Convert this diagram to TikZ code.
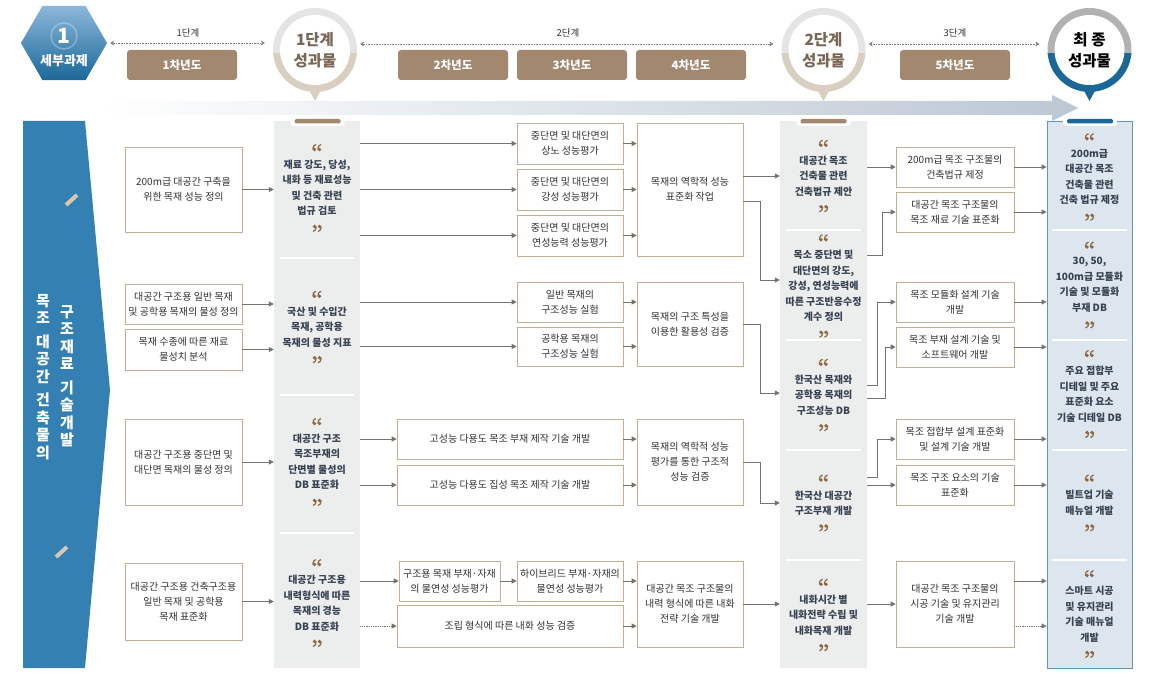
\documentclass[tikz,border=0pt]{standalone}
\usepackage{fontspec}
\setmainfont{Noto Sans CJK KR}
\usepackage{tikz}
\usetikzlibrary{calc,arrows.meta,shapes.geometric}
\definecolor{krblue}{RGB}{52,128,178}
\definecolor{krlight}{RGB}{140,184,218}
\definecolor{krnavy}{RGB}{27,104,152}
\definecolor{krbrown}{RGB}{163,136,112}
\definecolor{krtan}{RGB}{196,174,150}
\definecolor{krgray}{RGB}{236,237,237}
\definecolor{krpale}{RGB}{221,229,238}
\definecolor{krframe}{RGB}{96,150,194}
\definecolor{krline}{RGB}{115,115,115}
\definecolor{krtext}{RGB}{50,50,50}
\definecolor{krdark}{RGB}{55,66,82}
\definecolor{krquote}{RGB}{140,104,66}
\definecolor{krmark}{RGB}{214,200,180}
\definecolor{ringgray}{RGB}{228,228,228}
\definecolor{ringbeige}{RGB}{216,207,192}
\definecolor{ringdark}{RGB}{178,178,178}
\definecolor{bandgray}{RGB}{188,199,211}
\definecolor{stagetxt}{RGB}{122,102,84}

\tikzset{
  taskbox/.style={draw=krtan, fill=white, line width=0.6pt, align=center, text=krtext,
    font=\fontsize{10}{15}\selectfont, inner sep=0pt},
  outtext/.style={align=center, text=krdark, font=\fontsize{10}{15.5}\selectfont\bfseries},
  vtext/.style={align=center, text=white, font=\fontsize{15}{17.5}\selectfont\bfseries},
  flow/.style={draw=krline, line width=0.8pt, -{Triangle[length=5pt,width=5pt]}},
  dotflow/.style={flow, densely dotted},
  sepline/.style={white, line width=2.5pt},
  yearbox/.style={fill=krbrown, rounded corners=3pt, minimum width=110pt, minimum height=30pt,
    text=white, font=\fontsize{11.5}{12}\selectfont\bfseries},
  stageline/.style={draw=gray, densely dotted, line width=0.6pt,
    {Stealth[length=4pt,width=5pt]}-{Stealth[length=4pt,width=5pt]}, shorten <=3pt, shorten >=8pt},
  stagelbl/.style={font=\fontsize{9.5}{10}\selectfont, text=krtext},
  ringtext/.style={circle, minimum size=84pt, align=center, font=\fontsize{15.5}{21}\selectfont\bfseries},
  % opening and closing quote marks
  oquote/.pic={
    \foreach \dx in {-2.5,2.5} {
      \fill[krquote] (\dx,1) circle (1.9pt);
      \draw[krquote, line width=1.2pt] (\dx-1.7,1) .. controls (\dx-1.7,-2) and (\dx-0.5,-3.5) .. (\dx+1.5,-4);
    }
  },
  cquote/.pic={
    \foreach \dx in {-2.5,2.5} {
      \fill[krquote] (\dx,-1) circle (1.9pt);
      \draw[krquote, line width=1.2pt] (\dx+1.7,-1) .. controls (\dx+1.7,2) and (\dx+0.5,3.5) .. (\dx-1.5,4);
    }
  },
}

\begin{document}
\begin{tikzpicture}[x=1pt, y=-1pt]
\useasboundingbox (0,0) rectangle (1156,674);

% Header: task badge
\node[regular polygon, regular polygon sides=6, minimum size=86pt, inner sep=0pt,
  top color=krlight, bottom color=krnavy] (hex) at (64,43) {};
\draw[white, opacity=0.3, line width=1.5pt] (64,36) circle (13pt);
\node[font=\fontsize{21}{21}\selectfont\bfseries, text=white] (hexnum) at (64,36) {1};
\node[font=\fontsize{13}{13}\selectfont\bfseries, text=white] (hexlbl) at (64,61) {세부과제};

% Year boxes
\foreach \x/\t [count=\i] in {182/1차년도, 453/2차년도, 572/3차년도, 691/4차년도, 955/5차년도}
  \node[yearbox] (yr\i) at (\x,65) {\t};

% Result rings
\foreach \cx/\up/\down in {315/ringgray/ringbeige, 823.5/ringgray/ringbeige, 1089.5/ringdark/krnavy} {
  \begin{scope}
    \clip (\cx-50,0) rectangle (\cx+50,54);
    \fill[\up] (\cx,50) circle (42pt);
  \end{scope}
  \fill[\down] (\cx-7,88) -- (\cx+7,88) -- (\cx,101) -- cycle;
  \begin{scope}
    \clip (\cx-50,54) rectangle (\cx+50,110);
    \fill[\down] (\cx,50) circle (42pt);
  \end{scope}
  \fill[white] (\cx,50) circle (35pt);
}
\node[ringtext, text=stagetxt] (out1) at (315,50) {1단계\\성과물};
\node[ringtext, text=stagetxt] (out2) at (823.5,50) {2단계\\성과물};
\node[ringtext, text=black] (out3) at (1089.5,50) {최 종\\성과물};

% Stage lines
\draw[stageline] (hex.east) -- (hex.east -| out1.west);
\draw[stageline] ([yshift=6pt]out1.east) -- ([yshift=6pt]out2.west);
\draw[stageline] ([yshift=6pt]out2.east) -- ([yshift=6pt]out3.west);
\node[stagelbl] (st1) at (188,33) {1단계};
\node[stagelbl] (st2) at (568,33) {2단계};
\node[stagelbl] (st3) at (955,33) {3단계};

% Time band
\shade[left color=white, right color=bandgray] (100,101) -- (1052,101) -- (1052,95)
  -- (1078,108) -- (1052,121) -- (1052,115) -- (100,115) -- cycle;

% Left title panel
\fill[krblue] (23,121) -- (85,121) -- (110,390) -- (85,668) -- (23,668) -- cycle;
\draw[krmark, line width=4pt] (66,205) -- (77,195);
\draw[krmark, line width=4pt] (56,557) -- (67,547);
\node[vtext] (vt1) at (43,377) {목\\조\\[6pt]대\\공\\간\\[6pt]건\\축\\물\\의};
\node[vtext] (vt2) at (67,376) {구\\조\\재\\료\\[6pt]기\\술\\개\\발};

% Result panels
\node[fill=krgray, minimum width=86pt, minimum height=547pt, inner sep=0pt] (pan1) at (317,394.5) {};
\node[fill=krgray, minimum width=87pt, minimum height=547pt, inner sep=0pt] (pan2) at (823.5,394.5) {};
\node[fill=krpale, draw=krframe, line width=0.8pt, minimum width=85pt, minimum height=547pt,
  inner sep=0pt] (pan3) at (1089.5,394.5) {};
\foreach \cx/\col in {317.5/krbrown, 823.5/krbrown, 1090/krnavy} {
  \fill[white, rounded corners=3pt] (\cx-27,116) rectangle (\cx+27,126);
  \fill[\col, rounded corners=1.5pt] (\cx-23,119) rectangle (\cx+23,123.5);
}
\foreach \y in {258,395,533}
  \draw[sepline] (280,\y) -- (354,\y);
\foreach \y in {230,340,450,560} {
  \draw[sepline] (786,\y) -- (861,\y);
  \draw[sepline] (1052,\y) -- (1127,\y);
}

% Phase 1 results
\node[outtext] (b1) at (317,188) {재료 강도, 당성,\\내화 등 재료성능\\및 건축 관련\\법규 검토};
\node[outtext] (b2) at (317,327) {국산 및 수입간\\목재, 공학용\\목재의 물성 지표};
\node[outtext] (b3) at (317,462) {대공간 구조\\목조부재의\\단면별 물성의\\DB 표준화};
\node[outtext] (b4) at (317,603) {대공간 구조용\\내력형식에 따른\\목재의 경능\\DB 표준화};

% Phase 2 results
\node[outtext] (e1) at (823.5,176) {대공간 목조\\건축물 관련\\건축법규 제안};
\node[outtext] (e2) at (823.5,286) {목소 중단면 및\\대단면의 강도,\\강성, 연성능력에\\따른 구조반응수정\\계수 정의};
\node[outtext] (e3) at (823.5,395) {한국산 목재와\\공학용 목재의\\구조성능 DB};
\node[outtext] (e4) at (823.5,503) {한국산 대공간\\구조부재 개발};
\node[outtext] (e5) at (823.5,615) {내화시간 별\\내화전략 수립 및\\내화목재 개발};

% Final results
\node[outtext] (g1) at (1089.5,177) {200m급\\대공간 목조\\건축물 관련\\건축 법규 제정};
\node[outtext] (g2) at (1089.5,285) {30, 50,\\100m급 모듈화\\기술 및 모듈화\\부재 DB};
\node[outtext] (g3) at (1089.5,394) {주요 접합부\\디테일 및 주요\\표준화 요소\\기술 디테일 DB};
\node[outtext] (g4) at (1089.5,503) {빌트업 기술\\매뉴얼 개발};
\node[outtext] (g5) at (1089.5,614) {스마트 시공\\및 유지관리\\기술 매뉴얼\\개발};

% Quote marks round every result
\foreach \n in {b1,b2,b3,b4,e1,e2,e3,e4,e5,g1,g2,g3,g4,g5} {
  \pic at ($(\n.north)+(0,-8)$) {oquote};
  \pic at ($(\n.south)+(0,8)$) {cquote};
}

% Year 1 tasks
\node[taskbox, minimum width=117pt, minimum height=85pt] (a1) at (183.5,189.5) {200m급 대공간 구축을\\위한 목재 성능 정의};
\node[taskbox, minimum width=117pt, minimum height=40pt] (a2) at (183.5,304) {대공간 구조용 일반 목재\\및 공학용 목재의 물성 정의};
\node[taskbox, minimum width=117pt, minimum height=41pt] (a3) at (183.5,349.5) {목재 수종에 따른 재료\\물성치 분석};
\node[taskbox, minimum width=117pt, minimum height=86pt] (a4) at (183.5,462) {대공간 구조용 중단면 및\\대단면 목재의 물성 정의};
\node[taskbox, minimum width=117pt, minimum height=77pt] (a5) at (183.5,601.5) {대공간 구조용 건축구조용\\일반 목재 및 공학용\\목재 표준화};

% Year 2-4 tasks
\node[taskbox, minimum width=106pt, minimum height=41pt] (c1) at (570,143.5) {중단면 및 대단면의\\상노 성능평가};
\node[taskbox, minimum width=106pt, minimum height=41pt] (c2) at (570,189.5) {중단면 및 대단면의\\강성 성능평가};
\node[taskbox, minimum width=106pt, minimum height=41pt] (c3) at (570,235.5) {중단면 및 대단면의\\연성능력 성능평가};
\node[taskbox, minimum width=106pt, minimum height=133pt] (d1) at (690,189.5) {목재의 역학적 성능\\표준화 작업};
\node[taskbox, minimum width=106pt, minimum height=40pt] (c4) at (570,302) {일반 목재의\\구조성능 실험};
\node[taskbox, minimum width=106pt, minimum height=39pt] (c5) at (570,346.5) {공학용 목재의\\구조성능 실험};
\node[taskbox, minimum width=106pt, minimum height=84pt] (d2) at (690,324) {목재의 구조 특성을\\이용한 활용성 검증};
\node[taskbox, minimum width=226pt, minimum height=40pt] (c6) at (510,439) {고성능 다용도 목조 부재 제작 기술 개발};
\node[taskbox, minimum width=226pt, minimum height=40pt] (c7) at (510,485) {고성능 다용도 집성 목조 제작 기술 개발};
\node[taskbox, minimum width=106pt, minimum height=86pt] (d3) at (690,462) {목재의 역학적 성능\\평가를 통한 구조적\\성능 검증};
\node[taskbox, minimum width=101pt, minimum height=40pt] (c8) at (449.5,581) {구조용 목재 부재·자재\\의 물연성 성능평가};
\node[taskbox, minimum width=106pt, minimum height=40pt] (c9) at (570,581) {하이브리드 부재·자재의\\물연성 성능평가};
\node[taskbox, minimum width=226pt, minimum height=42pt] (c10) at (510,626) {조립 형식에 따른 내화 성능 검증};
\node[taskbox, minimum width=106pt, minimum height=86pt] (d4) at (690,604) {대공간 목조 구조물의\\내력 형식에 따른 내화\\전략 기술 개발};

% Year 5 tasks
\node[taskbox, minimum width=118pt, minimum height=40pt] (f1) at (955,167) {200m급 목조 구조물의\\건축법규 제정};
\node[taskbox, minimum width=118pt, minimum height=40pt] (f2) at (955,212) {대공간 목조 구조물의\\목조 재료 기술 표준화};
\node[taskbox, minimum width=118pt, minimum height=40pt] (f3) at (955,302) {목조 모듈화 설계 기술\\개발};
\node[taskbox, minimum width=118pt, minimum height=40pt] (f4) at (955,347) {목조 부재 설계 기술 및\\소프트웨어 개발};
\node[taskbox, minimum width=118pt, minimum height=40pt] (f5) at (955,439) {목조 접합부 설계 표준화\\및 설계 기술 개발};
\node[taskbox, minimum width=118pt, minimum height=40pt] (f6) at (955,485) {목조 구조 요소의 기술\\표준화};
\node[taskbox, minimum width=118pt, minimum height=86pt] (f7) at (955,604) {대공간 목조 구조물의\\시공 기술 및 유지관리\\기술 개발};

% Year 1 into phase 1
\foreach \a in {a1,a2,a3,a4,a5}
  \draw[flow] (\a.east) -- (\a.east -| pan1.west);

% Phase 1 into years 2-4
\foreach \c in {c1,c2,c3,c4,c5,c6,c7,c8}
  \draw[flow] (\c.west -| pan1.east) -- (\c.west);
\draw[dotflow] (c10.west -| pan1.east) -- (c10.west);
\draw[flow] (c8) -- (c9);
\foreach \c/\d in {c1/d1,c2/d1,c3/d1,c4/d2,c5/d2,c6/d3,c7/d3,c9/d4,c10/d4}
  \draw[flow] (\c.east) -- (\c.east -| \d.west);

% Years 2-4 into phase 2
\draw[flow] (d1.east |- e1) -- (pan2.west |- e1);
\draw[flow] ([yshift=-11.5pt]d1.east) -- ++(17,0) |- ($(pan2.west |- e2)+(0,-6)$);
\draw[flow] (d2.east) -- ++(17,0) |- ($(pan2.west |- e3)+(0,-2)$);
\draw[flow] (d3.east) -- ++(17,0) |- (pan2.west |- e4);
\draw[flow] (d4.east) -- (d4.east -| pan2.west);

% Phase 2 into year 5
\draw[flow] (f1.west -| pan2.east) -- (f1.west);
\draw[flow] ($(pan2.east |- e2)+(0,-31)$) -- ++(15,0) |- (f2.west);
\draw[flow] ($(pan2.east |- e3)+(0,-10)$) -- ++(10,0) |- (f3.west);
\draw[flow] ($(pan2.east |- e3)+(0,3)$) -- ++(18,0) |- (f4.west);
\draw[flow] ($(pan2.east |- e4)+(0,-26)$) -- ++(10,0) |- (f5.west);
\draw[flow] (f6.west -| pan2.east) -- (f6.west);
\draw[flow] (f7.west -| pan2.east) -- (f7.west);

% Year 5 into final results
\foreach \f in {f1,f2,f3,f4,f5,f6}
  \draw[flow] (\f.east) -- (\f.east -| pan3.west);
\draw[flow] ([yshift=23pt]f7.east) -- ([yshift=23pt]f7.east -| pan3.west);
\draw[dotflow] ([yshift=-22pt]f7.east) -- ([yshift=-22pt]f7.east -| pan3.west);
\end{tikzpicture}
\end{document}
